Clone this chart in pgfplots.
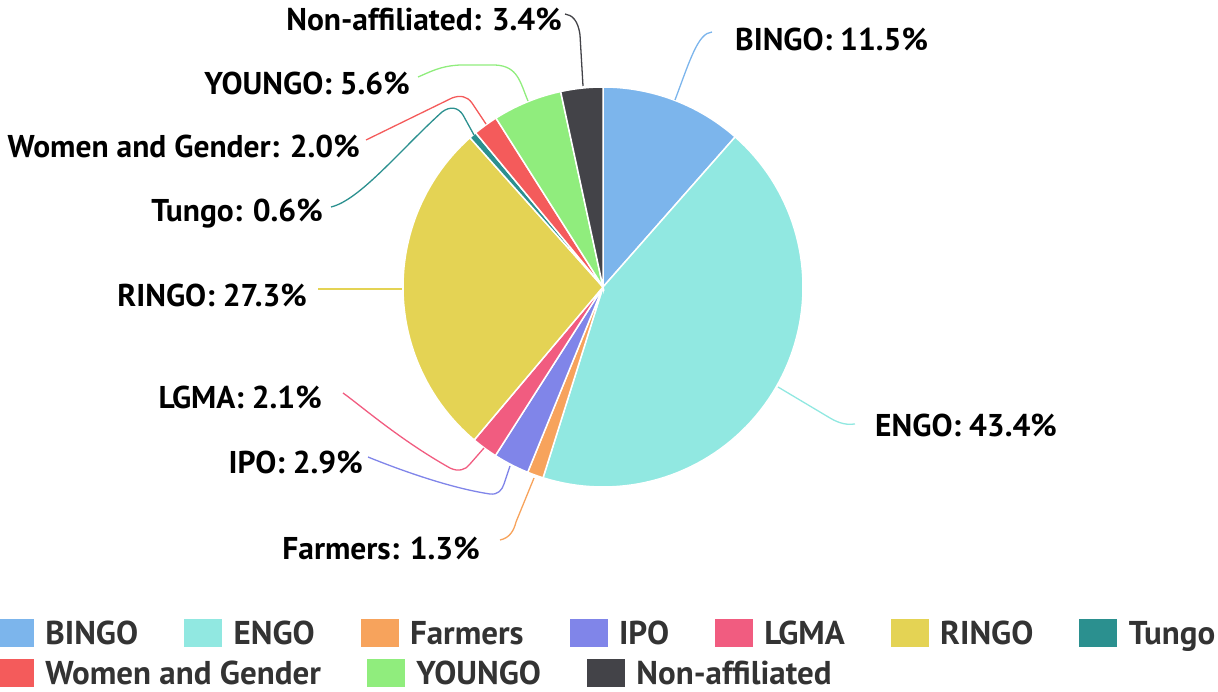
\documentclass[border=0pt]{standalone}
\usepackage{fontspec}
\setmainfont{PT Sans}
\usepackage{pgfplots}
\pgfplotsset{compat=1.18}
\definecolor{cBINGO}{HTML}{7CB5EC}
\definecolor{cENGO}{HTML}{91E8E1}
\definecolor{cFarmers}{HTML}{F7A35C}
\definecolor{cIPO}{HTML}{8085E9}
\definecolor{cLGMA}{HTML}{F15C80}
\definecolor{cRINGO}{HTML}{E4D354}
\definecolor{cTungo}{HTML}{2B908F}
\definecolor{cWomen}{HTML}{F45B5B}
\definecolor{cYOUNGO}{HTML}{90ED7D}
\definecolor{cNon}{HTML}{434348}
\definecolor{txt}{HTML}{333333}
\newcommand\lblfont{\fontsize{31.5}{36}\selectfont\bfseries}
\newcommand\legfont{\fontsize{33}{36}\selectfont\bfseries}
% pie slices: share in percent, drawn clockwise from 12 o'clock
\newcommand\startA{90}
\newcommand\pieslice[2]{%
  \pgfmathsetmacro\endA{\startA-360/100.1*#2}%
  \edef\doslice{\noexpand\addplot[fill=#1, draw=white, line width=1.5pt,
     domain=\endA:\startA, samples=80, variable=\noexpand\t, forget plot]
     ({603+200*cos(\noexpand\t)},{287-200*sin(\noexpand\t)}) -- (axis cs:603,287) -- cycle;}%
  \doslice
  \global\let\startA\endA
}
\pgfplotsset{
  base/.style={width=1218pt, height=692pt, scale only axis,
    xmin=0, xmax=1218, ymin=0, ymax=692, y dir=reverse, hide axis, clip=false},
  legrow/.style={legend style={draw=none, fill=none, inner sep=0pt, outer sep=0pt,
    font=\legfont, text=txt,
    nodes={inner sep=0pt, text height=23pt, text depth=0pt},
    /tikz/every odd column/.style={column sep=12pt},
    /tikz/every even column/.style={column sep=46pt}},
    legend cell align=left}
}
\newcommand\legsq[1]{\addlegendimage{legend image code/.code={\fill[#1] (0pt,-13.5pt) rectangle (37pt,13.5pt);}}}
\begin{document}
\begin{tikzpicture}
\begin{axis}[base, legrow, legend columns=7,
  legend style={at={(axis cs:-4,632.5)}, anchor=west}]
\pieslice{cBINGO}{11.5}
\pieslice{cENGO}{43.4}
\pieslice{cFarmers}{1.3}
\pieslice{cIPO}{2.9}
\pieslice{cLGMA}{2.1}
\pieslice{cRINGO}{27.3}
\pieslice{cTungo}{0.6}
\pieslice{cWomen}{2.0}
\pieslice{cYOUNGO}{5.6}
\pieslice{cNon}{3.4}
% connectors
\begin{scope}[line width=1.3pt]
\draw[cBINGO] (axis cs:675,100) .. controls (axis cs:690,60) and (axis cs:698,33) .. (axis cs:712,32);
\draw[cNon] (axis cs:583,86) -- (axis cs:580,35) .. controls (axis cs:578,20) and (axis cs:572,15) .. (axis cs:565,14);
\draw[cYOUNGO] (axis cs:528,101) .. controls (axis cs:520,82) and (axis cs:518,66) .. (axis cs:495,65) -- (axis cs:460,65) .. controls (axis cs:440,66) and (axis cs:430,72) .. (axis cs:418,77);
\draw[cWomen] (axis cs:486,124) -- (axis cs:472,103) .. controls (axis cs:467,96) and (axis cs:460,95) .. (axis cs:452,98) -- (axis cs:366,140);
\draw[cTungo] (axis cs:474,135) -- (axis cs:463,115) .. controls (axis cs:458,107) and (axis cs:450,106) .. (axis cs:442,112) .. controls (axis cs:400,150) and (axis cs:360,200) .. (axis cs:331,207);
\draw[cRINGO] (axis cs:318,289) -- (axis cs:402,289);
\draw[cLGMA] (axis cs:343,393) .. controls (axis cs:360,405) and (axis cs:400,440) .. (axis cs:450,468) .. controls (axis cs:458,472) and (axis cs:466,470) .. (axis cs:470,464) -- (axis cs:484,448);
\draw[cIPO] (axis cs:368,457) .. controls (axis cs:400,470) and (axis cs:450,488) .. (axis cs:490,494) .. controls (axis cs:498,495) and (axis cs:502,490) .. (axis cs:504,484) -- (axis cs:510,466);
\draw[cFarmers] (axis cs:500,540) .. controls (axis cs:510,538) and (axis cs:514,530) .. (axis cs:516,522) -- (axis cs:534,478);
\draw[cENGO] (axis cs:778,387) -- (axis cs:830,418) .. controls (axis cs:840,424) and (axis cs:848,425) .. (axis cs:855,424);
\end{scope}
% labels
\begin{scope}[every node/.style={font=\lblfont, text=black, inner sep=0pt, text height=22pt, text depth=0pt}]
\node[anchor=east] at (axis cs:562,20) {Non-affiliated: 3.4\%};
\node[anchor=west] at (axis cs:735,40) {BINGO: 11.5\%};
\node[anchor=east] at (axis cs:410,84) {YOUNGO: 5.6\%};
\node[anchor=east] at (axis cs:360,147) {Women and Gender: 2.0\%};
\node[anchor=east] at (axis cs:323,211) {Tungo: 0.6\%};
\node[anchor=east] at (axis cs:307,296) {RINGO: 27.3\%};
\node[anchor=east] at (axis cs:322,398) {LGMA: 2.1\%};
\node[anchor=east] at (axis cs:363,462) {IPO: 2.9\%};
\node[anchor=east] at (axis cs:480,548) {Farmers: 1.3\%};
\node[anchor=west] at (axis cs:875,425) {ENGO: 43.4\%};
\end{scope}
\legsq{cBINGO}\addlegendentry{BINGO}
\legsq{cENGO}\addlegendentry{ENGO}
\legsq{cFarmers}\addlegendentry{Farmers}
\legsq{cIPO}\addlegendentry{IPO}
\legsq{cLGMA}\addlegendentry{LGMA}
\legsq{cRINGO}\addlegendentry{RINGO}
\legsq{cTungo}\addlegendentry{Tungo}
\end{axis}
\begin{axis}[base, legrow, legend columns=3,
  legend style={at={(axis cs:-4,673)}, anchor=west}]
\legsq{cWomen}\addlegendentry{Women and Gender}
\legsq{cYOUNGO}\addlegendentry{YOUNGO}
\legsq{cNon}\addlegendentry{Non-affiliated}
\end{axis}
\pgfresetboundingbox
\path (current axis.south west) rectangle (current axis.north east);
\end{tikzpicture}
\end{document}
